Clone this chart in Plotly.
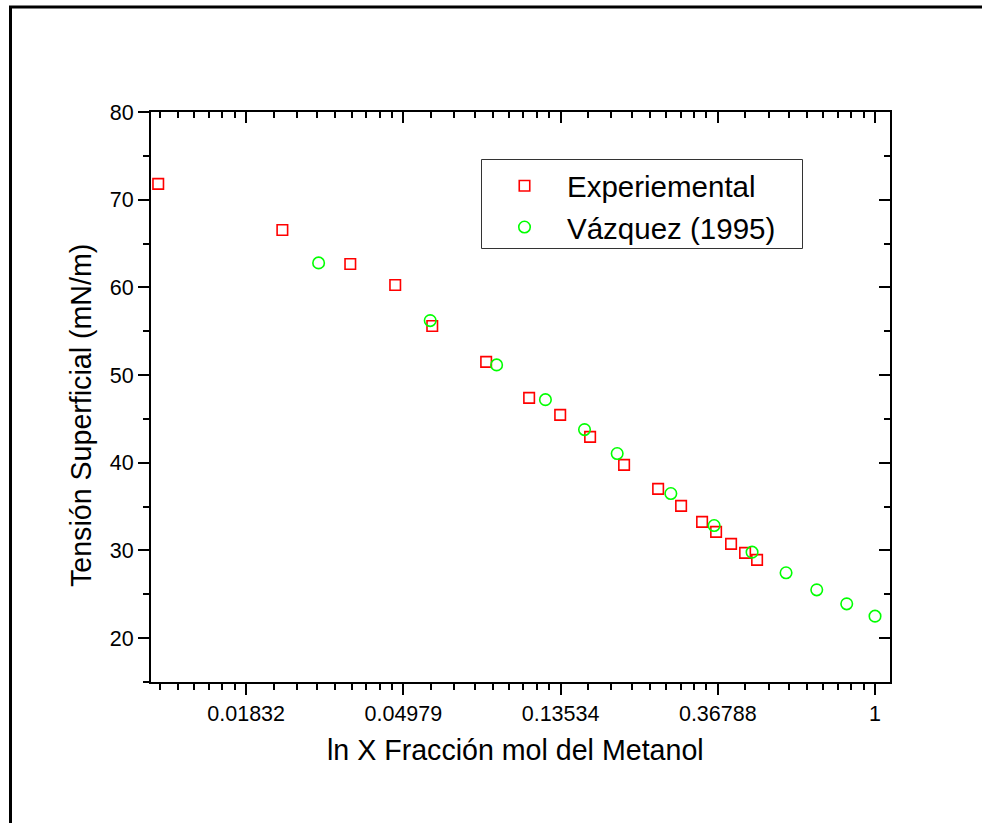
import math
import plotly.graph_objects as go

# ---- data ----
exp_x = [0.01047, 0.02306, 0.03552, 0.04727, 0.05983, 0.0843, 0.1108, 0.135,
         0.1633, 0.2027, 0.2517, 0.2913, 0.3329, 0.3639, 0.4003, 0.4376, 0.4723]
exp_y = [71.8, 66.55, 62.67, 60.28, 55.6, 51.5, 47.4, 45.46,
         42.95, 39.76, 37.02, 35.08, 33.26, 32.12, 30.75, 29.73, 28.93]

vaz_x = [0.02904, 0.05906, 0.0901, 0.1229, 0.1576, 0.1940, 0.2729, 0.3594,
         0.4575, 0.5679, 0.6903, 0.8353, 1.0]
vaz_y = [62.79, 56.21, 51.16, 47.20, 43.78, 41.05, 36.49, 32.84,
         29.81, 27.45, 25.51, 23.91, 22.51]

x_tick_vals = [math.exp(-4), math.exp(-3), math.exp(-2), math.exp(-1), 1.0]
x_tick_text = ["0.01832", "0.04979", "0.13534", "0.36788", "1"]
y_tick_vals = [20, 30, 40, 50, 60, 70, 80]

x_range = [0.01, 1.1]
y_range = [15, 80]

# minor ticks: 8 linearly spaced between consecutive powers of e
minor_x = []
for k in range(-5, 1):
    a, b = math.exp(k), math.exp(k + 1)
    for i in range(1, 9):
        v = a + (b - a) * i / 9
        if x_range[0] <= v <= x_range[1]:
            minor_x.append(v)

W, H = 982, 823
L, R, T, B = 151, 92, 112, 141
PW, PH = W - L - R, H - T - B

def px(x):
    return (x - L) / PW

def py(y):
    return (H - B - y) / PH

FONT = "Liberation Sans, Arial, sans-serif"
TICK_SIZE = 21.5
TITLE_SIZE = 28.6
LEGEND_SIZE = 29.5

fig = go.Figure()
fig.add_trace(go.Scatter(
    x=exp_x, y=exp_y, mode="markers", name="Experiemental",
    marker=dict(symbol="square-open", size=10.5, color="#FF0000",
                line=dict(width=1.6, color="#FF0000")),
))
fig.add_trace(go.Scatter(
    x=vaz_x, y=vaz_y, mode="markers", name="Vázquez (1995)",
    marker=dict(symbol="circle-open", size=11.5, color="#00FF00",
                line=dict(width=1.6, color="#00FF00")),
))

log_range = [math.log10(x_range[0]), math.log10(x_range[1])]

common_x = dict(type="log", range=log_range, tickmode="array",
                tickvals=x_tick_vals, showgrid=False, zeroline=False,
                showline=True, linecolor="black", linewidth=2,
                tickcolor="black", tickwidth=2, ticklen=11)
common_y = dict(range=y_range, tickmode="array", tickvals=y_tick_vals,
                showgrid=False, zeroline=False, showline=True,
                linecolor="black", linewidth=2, tickcolor="black",
                tickwidth=2, ticklen=11)

fig.update_layout(
    width=W, height=H,
    margin=dict(l=L, r=R, t=T, b=B),
    paper_bgcolor="white", plot_bgcolor="white",
    font=dict(family=FONT, color="black"),
    xaxis=dict(**common_x, ticks="outside", ticktext=x_tick_text,
               tickfont=dict(size=TICK_SIZE, family=FONT),
               minor=dict(tickmode="array", tickvals=minor_x, ticks="outside",
                          ticklen=6, tickwidth=2, tickcolor="black",
                          showgrid=False)),
    xaxis2=dict(**common_x, ticks="inside", overlaying="x", side="top",
                showticklabels=False, matches="x",
                minor=dict(tickmode="array", tickvals=minor_x, ticks="inside",
                           ticklen=6, tickwidth=2, tickcolor="black",
                           showgrid=False)),
    yaxis=dict(**common_y, ticks="outside",
               tickfont=dict(size=TICK_SIZE, family=FONT),
               minor=dict(dtick=5, tick0=0, ticks="outside", ticklen=6,
                          tickwidth=2, tickcolor="black", showgrid=False)),
    yaxis2=dict(**common_y, ticks="inside", overlaying="y", side="right",
                showticklabels=False, matches="y",
                minor=dict(dtick=5, tick0=0, ticks="inside", ticklen=6,
                           tickwidth=2, tickcolor="black", showgrid=False)),
    legend=dict(x=px(482), y=py(160), xanchor="left", yanchor="top",
                bgcolor="rgba(0,0,0,0)", borderwidth=0,
                font=dict(size=LEGEND_SIZE, family=FONT), itemwidth=75,
                tracegroupgap=0),
    showlegend=True,
)

# invisible helper trace so the mirrored axes get drawn
fig.add_trace(go.Scatter(x=[x_range[0]], y=[y_range[0]], xaxis="x2", yaxis="y2",
                         mode="markers", marker=dict(opacity=0),
                         showlegend=False, hoverinfo="skip"))

# outer frame: rectangle whose right and bottom sides lie outside the page
fig.add_shape(type="rect", xref="paper", yref="paper",
              x0=px(10.5), y0=py(7), x1=px(1300), y1=py(1200),
              line=dict(color="black", width=3), fillcolor="rgba(0,0,0,0)",
              layer="below")

# legend frame
fig.add_shape(type="rect", xref="paper", yref="paper",
              x0=px(481.5), y0=py(159.5), x1=px(802.5), y1=py(248.5),
              line=dict(color="#333333", width=1), fillcolor="white", layer="below")

fig.add_annotation(text="ln X Fracción mol del Metanol", xref="paper", yref="paper",
                   x=px(515), y=py(750), xanchor="center", yanchor="middle",
                   showarrow=False, font=dict(size=TITLE_SIZE, family=FONT))
fig.add_annotation(text="Tensión Superficial (mN/m)", xref="paper", yref="paper",
                   x=px(81), y=py(416), xanchor="center", yanchor="middle",
                   textangle=-90, showarrow=False, font=dict(size=TITLE_SIZE, family=FONT))

fig.write_html("out.html", config={"displayModeBar": False})
